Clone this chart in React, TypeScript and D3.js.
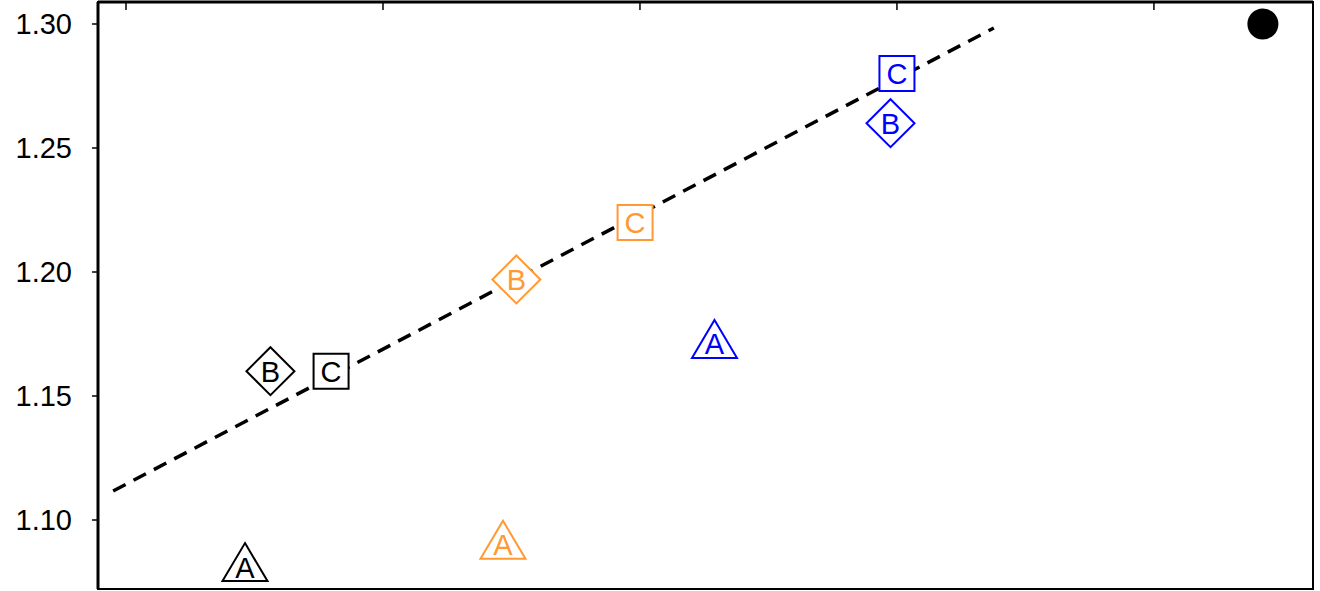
import { useEffect } from 'react';
import * as d3 from 'd3';

// ── data ──────────────────────────────────────────────
const groups = ['black', 'orange', 'blue'];
const groupColors = ['#000000', '#ff9933', '#0000ff'];
const letters = ['A', 'B', 'C'];
const shapes = ['triangle', 'diamond', 'square'];

// x / y for A, B, C in each group
const xValues = [
  [0.463, 0.562, 0.798],
  [1.467, 1.519, 1.981],
  [2.29, 2.975, 3.0],
];
const yValues = [
  [1.08, 1.16, 1.16],
  [1.089, 1.197, 1.22],
  [1.17, 1.26, 1.28],
];

const refPoint = { x: 4.424, y: 1.3 };
const fitLineX = [-0.05, 3.377];
const fitLineY = [1.1117, 1.2984];

const yTicks = [1.1, 1.15, 1.2, 1.25, 1.3];
const xTicks = [0, 1, 2, 3, 4];

const W = 1320;
const H = 591;
const frame = { left: 98, right: 1313, top: 2, bottom: 589 };

const FONT = '"Liberation Sans", Arial, Helvetica, sans-serif';

function markerPath(shape: string) {
  if (shape === 'triangle') return 'M0,-26.5L22.5,11.5L-22.5,11.5Z';
  if (shape === 'diamond') return 'M0,-24L24,0L0,24L-24,0Z';
  return 'M-17.5,-17.5L17.5,-17.5L17.5,17.5L-17.5,17.5Z';
}

export default function App() {
  useEffect(() => {
    document.body.style.margin = '0';
  }, []);

  const x = d3.scaleLinear().domain([-0.109, 4.619]).range([frame.left, frame.right]);
  const y = d3.scaleLinear().domain([1.07218, 1.30887]).range([frame.bottom, frame.top]);

  const line = d3.line<number>()
    .x(i => x(fitLineX[i]))
    .y(i => y(fitLineY[i]));

  return (
    <svg width={W} height={H} style={{ display: 'block', background: '#fff' }} fontFamily={FONT}>
      {/* frame */}
      <rect x={frame.left} y={frame.top} width={frame.right - frame.left} height={frame.bottom - frame.top}
        fill="none" stroke="#000" strokeWidth={2} />
      <line x1={frame.left} x2={frame.left} y1={frame.top} y2={frame.bottom} stroke="#000" strokeWidth={3} />
      <line x1={frame.left} x2={frame.right} y1={frame.top} y2={frame.top} stroke="#000" strokeWidth={3} />

      {/* y axis */}
      {yTicks.map(t => (
        <g key={t} transform={`translate(0,${y(t)})`}>
          <line x1={frame.left - 6} x2={frame.left} stroke="#000" strokeWidth={1.5} />
          <text x={72} dy="0.36em" textAnchor="end" fontSize={29} fill="#000">{t.toFixed(2)}</text>
        </g>
      ))}

      {/* top ticks */}
      {xTicks.map(t => (
        <line key={t} x1={x(t)} x2={x(t)} y1={frame.top} y2={frame.top + 8} stroke="#000" strokeWidth={1.5} />
      ))}

      {/* dashed fit line */}
      <path d={line([0, 1]) || ''} fill="none" stroke="#000" strokeWidth={3.5} strokeDasharray="14,9" />

      {/* lettered markers */}
      {groups.map((g, gi) => letters.map((l, li) => {
        const cx = x(xValues[gi][li]);
        const cy = y(yValues[gi][li]);
        const c = groupColors[gi];
        const dy = shapes[li] === 'triangle' ? 8 : 10.5;
        return (
          <g key={g + l} transform={`translate(${cx},${cy})`}>
            <path d={markerPath(shapes[li])} fill="#fff" stroke={c} strokeWidth={2} />
            <text y={dy} textAnchor="middle" fontSize={29} fill={c}>{l}</text>
          </g>
        );
      }))}

      {/* reference point */}
      <circle cx={x(refPoint.x)} cy={y(refPoint.y)} r={15.5} fill="#000" />
    </svg>
  );
}
